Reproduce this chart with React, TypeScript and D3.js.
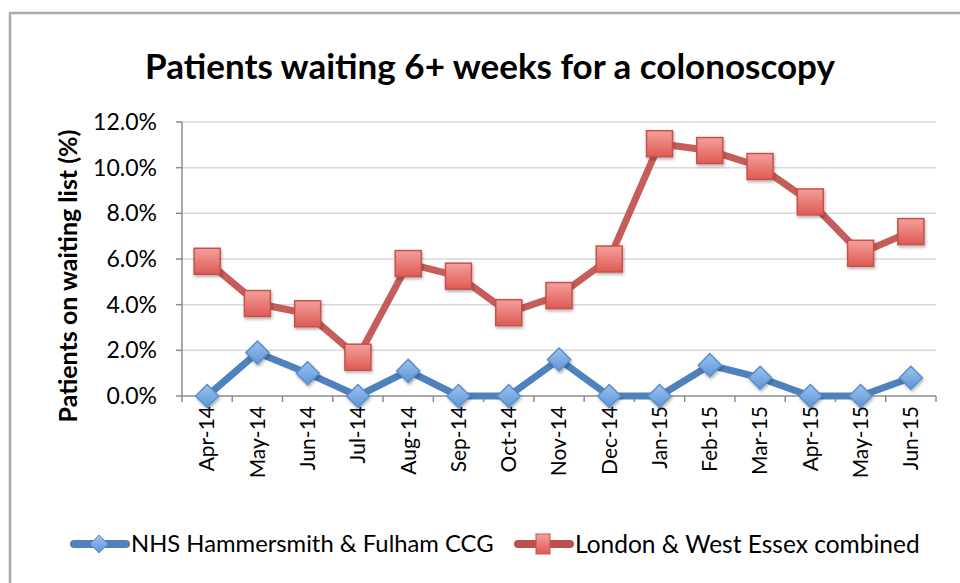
import React from "react";
import * as d3 from "d3";

const categories = ["Apr-14","May-14","Jun-14","Jul-14","Aug-14","Sep-14","Oct-14","Nov-14","Dec-14","Jan-15","Feb-15","Mar-15","Apr-15","May-15","Jun-15"];
const nhsValues = [0, 1.9, 1.0, 0, 1.1, 0, 0, 1.6, 0, 0, 1.35, 0.8, 0, 0, 0.8];
const londonValues = [5.9, 4.05, 3.6, 1.7, 5.8, 5.25, 3.65, 4.4, 6.0, 11.05, 10.75, 10.05, 8.5, 6.25, 7.2];
const yTicks = [0, 2, 4, 6, 8, 10, 12];
const seriesNames = ["NHS Hammersmith & Fulham CCG", "London & West Essex combined"];

const FONT = "Lato, 'Open Sans', sans-serif";
const BLUE = "#4F81BD";
const RED = "#C0504D";

export default function App() {
  const W = 960, H = 583;
  const left = 182, right = 936, top = 122, bottom = 396;
  const x = d3.scaleBand<string>().domain(categories).range([left, right]).padding(0);
  const y = d3.scaleLinear().domain([0, 12]).range([bottom, top]);
  const cx = (c: string) => (x(c) as number) + x.bandwidth() / 2;
  const line = d3.line<number>().x((_, i) => cx(categories[i])).y((d) => y(d));

  const diamond = (px: number, py: number, r: number) =>
    `M${px},${py - r}L${px + r},${py}L${px},${py + r}L${px - r},${py}Z`;

  return (
    <svg width={W} height={H} style={{ position: "absolute", left: 0, top: 0, background: "#fff" }} fontFamily={FONT}>
      <defs>
        <linearGradient id="gRed" x1="0" y1="0" x2="0" y2="1">
          <stop offset="0" stopColor="#F4A09B" />
          <stop offset="1" stopColor="#DE5A54" />
        </linearGradient>
        <linearGradient id="gBlue" x1="0" y1="0" x2="0" y2="1">
          <stop offset="0" stopColor="#9CC3F0" />
          <stop offset="1" stopColor="#5E95D6" />
        </linearGradient>
        <filter id="shadow" x="-50%" y="-50%" width="200%" height="200%">
          <feDropShadow dx="1" dy="2" stdDeviation="1.5" floodColor="#000" floodOpacity="0.3" />
        </filter>
      </defs>
      <rect x={10} y={13} width={W + 20} height={H + 20} fill="#fff" stroke="#ababab" strokeWidth={2.5} />
      <text x={490} y={79} textAnchor="middle" fontSize={35} fontWeight="bold" fill="#000">
        Patients waiting 6+ weeks for a colonoscopy
      </text>
      {yTicks.filter((t) => t > 0).map((t) => (
        <line key={t} x1={left} x2={right} y1={y(t)} y2={y(t)} stroke="#D9D9D9" strokeWidth={1.5} />
      ))}
      <line x1={left} x2={left} y1={top} y2={bottom} stroke="#8c8c8c" strokeWidth={1.5} />
      {yTicks.map((t) => (
        <g key={t}>
          <line x1={left - 6} x2={left} y1={y(t)} y2={y(t)} stroke="#8c8c8c" strokeWidth={1.5} />
          <text x={left - 25} y={y(t)} dy="0.35em" textAnchor="end" fontSize={23} fill="#000">
            {t.toFixed(1)}%
          </text>
        </g>
      ))}
      <line x1={left} x2={right} y1={bottom} y2={bottom} stroke="#8c8c8c" strokeWidth={1.5} />
      {categories.map((c) => (
        <line key={c} x1={(x(c) as number) + x.bandwidth()} x2={(x(c) as number) + x.bandwidth()} y1={bottom} y2={bottom + 6} stroke="#8c8c8c" strokeWidth={1.5} />
      ))}
      <line x1={left} x2={left} y1={bottom} y2={bottom + 6} stroke="#8c8c8c" strokeWidth={1.5} />
      {categories.map((c) => (
        <text key={c} transform={`translate(${cx(c)},${406}) rotate(-90)`} dy="0.35em" textAnchor="end" fontSize={21} fill="#000">
          {c}
        </text>
      ))}
      <text transform={`translate(68,276) rotate(-90)`} textAnchor="middle" dy="0.35em" fontSize={25} fontWeight="bold" fill="#000">
        Patients on waiting list (%)
      </text>
      <path d={line(nhsValues) as string} fill="none" stroke={BLUE} strokeWidth={7} strokeLinejoin="round" />
      <path d={line(londonValues) as string} fill="none" stroke={RED} strokeWidth={7} strokeLinejoin="round" opacity={0.92} />
      {nhsValues.map((v, i) => (
        <path key={i} d={diamond(cx(categories[i]), y(v), 11.5)} fill="url(#gBlue)" stroke="#5B8FCB" strokeWidth={1.5} filter="url(#shadow)" />
      ))}
      {londonValues.map((v, i) => (
        <rect key={i} x={cx(categories[i]) - 13} y={y(v) - 13} width={26} height={26} fill="url(#gRed)" stroke="#C9504B" strokeWidth={1.5} filter="url(#shadow)" />
      ))}
      <g>
        <line x1={74} x2={126} y1={544} y2={544} stroke={BLUE} strokeWidth={8} strokeLinecap="round" />
        <path d={diamond(99, 544, 9)} fill="url(#gBlue)" stroke="#5B8FCB" strokeWidth={1} />
        <text x={131} y={544} dy="0.35em" fontSize={23.8} fill="#000">{seriesNames[0]}</text>
        <line x1={518} x2={570} y1={544} y2={544} stroke={RED} strokeWidth={8} strokeLinecap="round" />
        <rect x={536} y={534} width={14} height={20} fill="url(#gRed)" stroke="#C9504B" strokeWidth={1} />
        <text x={575} y={544} dy="0.35em" fontSize={24.5} fill="#000">{seriesNames[1]}</text>
      </g>
    </svg>
  );
}
